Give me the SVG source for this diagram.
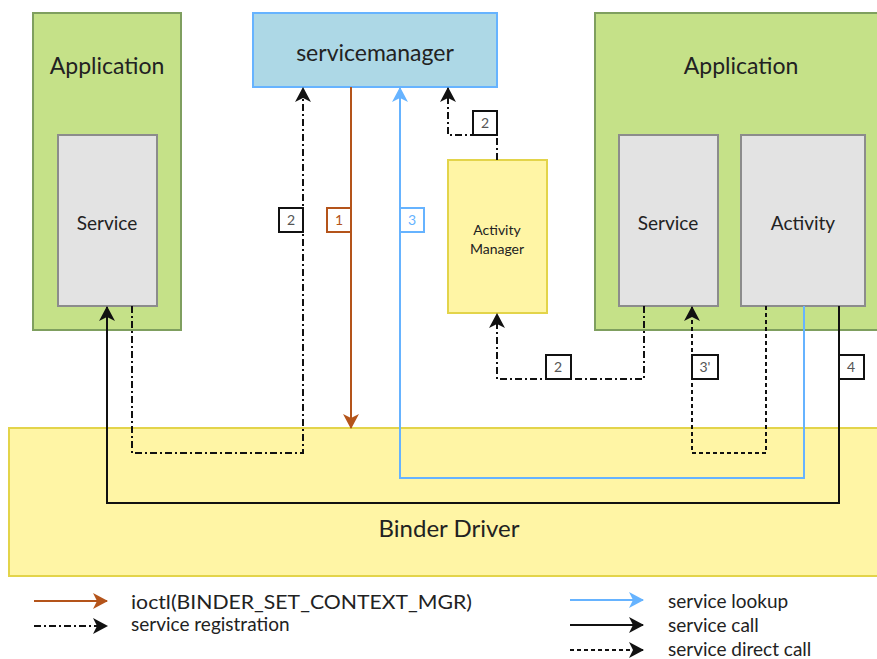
<svg xmlns="http://www.w3.org/2000/svg" width="877" height="659" viewBox="0 0 877 659">
<defs>
<style>
text{font-family:Lato,"Open Sans","DejaVu Sans",sans-serif;fill:#222}
.app{fill:#c5e188;stroke:#7f9f5f;stroke-width:2}
.svc{fill:#e3e3e3;stroke:#8c8c8c;stroke-width:2}
.sm{fill:#add8e6;stroke:#66b3ff;stroke-width:2}
.yel{fill:#fff5a5;stroke:#e3d44a;stroke-width:2}
.c{fill:none;stroke-width:2}
.blk{stroke:#111}
.org{stroke:#b4541a}
.blu{stroke:#66b3ff}
.dd{stroke-dasharray:7 3 2 3}
.ds{stroke-dasharray:4 3}
.lb rect{fill:#fff;stroke-width:2}
.lb text{font-size:14px;fill:#555;text-anchor:middle}
.big{font-size:23px;text-anchor:middle}
.mid{font-size:19px;text-anchor:middle}
.leg{font-size:19px}
</style>
<marker id="ak" viewBox="0 0 15 16" refX="14" refY="8" markerWidth="15" markerHeight="16" markerUnits="userSpaceOnUse" orient="auto"><path d="M0,0 L15,8 L0,16 L4,8 Z" fill="#111"/></marker>
<marker id="ao" viewBox="0 0 15 16" refX="14" refY="8" markerWidth="15" markerHeight="16" markerUnits="userSpaceOnUse" orient="auto"><path d="M0,0 L15,8 L0,16 L4,8 Z" fill="#b4541a"/></marker>
<marker id="ab" viewBox="0 0 15 16" refX="14" refY="8" markerWidth="15" markerHeight="16" markerUnits="userSpaceOnUse" orient="auto"><path d="M0,0 L15,8 L0,16 L4,8 Z" fill="#66b3ff"/></marker>
</defs>

<g id="binder-driver"><rect class="yel" x="9" y="428" width="875" height="148"/><text x="449" y="537" font-size="24" text-anchor="middle">Binder Driver</text></g>

<g id="app-left"><rect class="app" x="33" y="13" width="148" height="317"/><text class="big" x="107" y="74">Application</text></g>
<g id="service-left"><rect class="svc" x="58" y="135" width="99" height="171"/><text class="mid" x="107" y="230">Service</text></g>

<g id="servicemanager"><rect class="sm" x="253" y="13" width="244" height="74"/><text class="big" x="375" y="61">servicemanager</text></g>

<g id="activity-manager"><rect class="yel" x="448" y="160" width="99" height="153"/><text x="497" y="235" font-size="14" text-anchor="middle">Activity</text><text x="497" y="254" font-size="14" text-anchor="middle">Manager</text></g>

<g id="app-right"><rect class="app" x="595" y="13" width="290" height="317"/><text class="big" x="741" y="74">Application</text></g>
<g id="service-right"><rect class="svc" x="619" y="135" width="99" height="171"/><text class="mid" x="668" y="230">Service</text></g>
<g id="activity"><rect class="svc" x="741" y="135" width="124" height="171"/><text class="mid" x="803" y="230">Activity</text></g>

<g id="connectors">
<path class="c blk dd" d="M132,306 V453 H303 V88" marker-end="url(#ak)"/>
<path class="c org" d="M351,87 V428" marker-end="url(#ao)"/>
<path class="c blu" d="M804,306 V478 H400 V88" marker-end="url(#ab)"/>
<path class="c blk" d="M839,306 V503 H107 V307" marker-end="url(#ak)"/>
<path class="c blk dd" d="M497,160 V135 H448 V88" marker-end="url(#ak)"/>
<path class="c blk dd" d="M644,306 V379 H497 V314" marker-end="url(#ak)"/>
<path class="c blk ds" d="M766,306 V453 H692 V307" marker-end="url(#ak)"/>
<g class="lb"><rect x="279" y="208" width="24" height="24" stroke="#111"/><text x="291" y="225">2</text></g>
<g class="lb"><rect x="327" y="208" width="24" height="24" stroke="#b4541a"/><text x="339" y="225" style="fill:#b4541a">1</text></g>
<g class="lb"><rect x="400" y="208" width="24" height="24" stroke="#66b3ff"/><text x="412" y="225" style="fill:#66b3ff">3</text></g>
<g class="lb"><rect x="473" y="111" width="24" height="24" stroke="#111"/><text x="485" y="128">2</text></g>
<g class="lb"><rect x="546" y="355" width="25" height="24" stroke="#111"/><text x="558" y="372">2</text></g>
<g class="lb"><rect x="692" y="355" width="26" height="24" stroke="#111"/><text x="705" y="372">3'</text></g>
<g class="lb"><rect x="839" y="355" width="25" height="24" stroke="#111"/><text x="851" y="372">4</text></g>
</g>

<g id="legend">
<path class="c org" d="M34,601 H107" marker-end="url(#ao)"/>
<text class="leg" x="131" y="609" textLength="341" lengthAdjust="spacingAndGlyphs">ioctl(BINDER_SET_CONTEXT_MGR)</text>
<path class="c blk dd" d="M34,626 H107" marker-end="url(#ak)"/>
<text class="leg" x="131" y="631">service registration</text>
<path class="c blu" d="M570,600 H643" marker-end="url(#ab)"/>
<text class="leg" x="668" y="608">service lookup</text>
<path class="c blk" d="M570,625 H643" marker-end="url(#ak)"/>
<text class="leg" x="668" y="632">service call</text>
<path class="c blk ds" d="M570,650 H643" marker-end="url(#ak)"/>
<text class="leg" x="668" y="656">service direct call</text>
</g>
</svg>
